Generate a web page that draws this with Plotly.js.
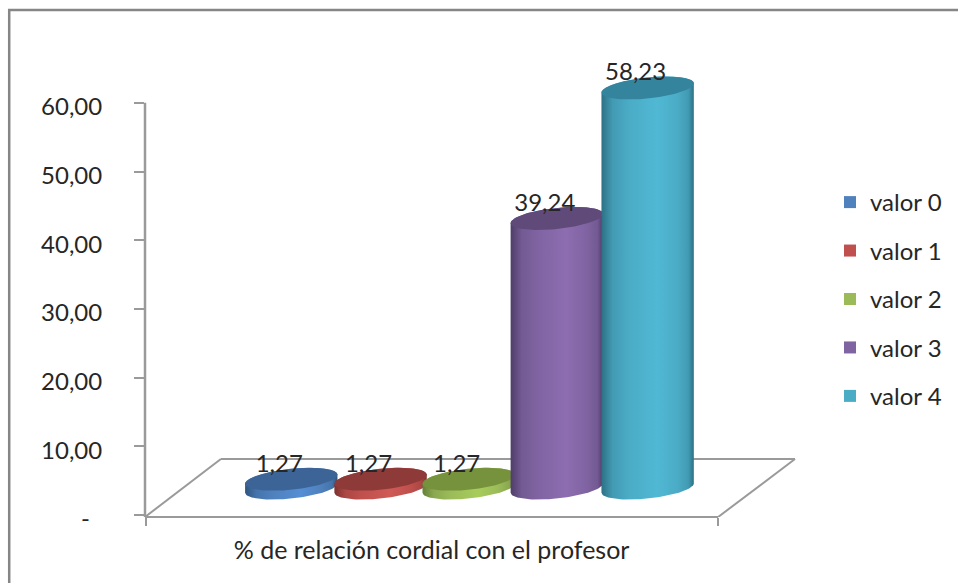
<!DOCTYPE html>
<html>
<head>
<meta charset="utf-8">
<script src="https://cdn.plot.ly/plotly-3.0.1.min.js"></script>
<style>html,body{margin:0;padding:0;background:#fff}</style>
</head>
<body>
<div id="chart" style="width:958px;height:583px"></div>
<script>
// ---- data ----
const seriesNames = ['valor 0', 'valor 1', 'valor 2', 'valor 3', 'valor 4'];
const seriesValues = [1.27, 1.27, 1.27, 39.24, 58.23];
const valueLabels = ['1,27', '1,27', '1,27', '39,24', '58,23'];
const categoryLabel = '% de relación cordial con el profesor';
const yTickVals = [0, 10, 20, 30, 40, 50, 60];
const yTickText = ['-\u00a0\u00a0', '10,00', '20,00', '30,00', '40,00', '50,00', '60,00'];

// ---- styles ----
const seriesColors = ['#4f81bd', '#c0504d', '#9bbb59', '#8064a2', '#4bacc6'];
const capColors = ['#3c6496', '#8e3a38', '#76923c', '#5f4a7a', '#35849d'];
const edgeColors = ['#2f5480', '#7d312f', '#64803a', '#4f3d68', '#2c7186'];
const midColors = ['#4474ab', '#ab4744', '#8aa84f', '#735a93', '#429ab3'];
const brightColors = ['#558ed5', '#cf5a56', '#a8cc5c', '#8d6db0', '#50b8d4'];
const slotCenters = [0.2552, 0.411, 0.5647, 0.7185, 0.877];

// ---- geometry of the fake 3D view ----
const L = 145, R = 801, T = 60, B = 517;
const pxPerX = 574, pxPerY = 6.87;
const baseOffset = 3.93;       // floor depth, in value units
const semiA = 46.5, semiB = 10.5, tilt = 6 * Math.PI / 180;
const FONT = 'Lato, Carlito, "Open Sans", sans-serif';
const TEXT = '#262626';
const LINE = '#9a9a9a';

function ellipsePoint(cx, cy, t) {
  const ax = semiA * Math.cos(t), by = semiB * Math.sin(t);
  return [cx + (ax * Math.cos(tilt) + by * Math.sin(tilt)) / pxPerX,
          cy + (ax * Math.sin(tilt) - by * Math.cos(tilt)) / pxPerY];
}
function arc(cx, cy, from, to, n) {
  const xs = [], ys = [];
  for (let i = 0; i <= n; i++) {
    const p = ellipsePoint(cx, cy, from + (to - from) * i / n);
    xs.push(p[0]); ys.push(p[1]);
  }
  return [xs, ys];
}

const traces = [];
// real bars: they carry the values and the legend, the cylinders are drawn over them
seriesNames.forEach((name, i) => {
  traces.push({
    type: 'bar', name: name, legendgroup: name,
    x: [slotCenters[i]], y: [seriesValues[i]], base: [baseOffset],
    width: [70 / pxPerX], marker: {color: seriesColors[i]},
    hoverinfo: 'name+y'
  });
});
// cylinders
seriesNames.forEach((name, i) => {
  const cx = slotCenters[i], y0 = baseOffset, y1 = baseOffset + seriesValues[i];
  const lo = arc(cx, y0, Math.PI, 0, 48);      // lower half, left to right
  const hi = arc(cx, y1, 0, -Math.PI, 48);     // upper half, right to left
  traces.push({
    type: 'scatter', mode: 'lines', showlegend: false, hoverinfo: 'skip',
    x: lo[0].concat(hi[0]).concat([lo[0][0]]),
    y: lo[1].concat(hi[1]).concat([lo[1][0]]),
    line: {width: 0}, fill: 'toself',
    fillgradient: {type: 'horizontal', colorscale: [
      [0, edgeColors[i]], [0.12, midColors[i]], [0.3, seriesColors[i]], [0.6, brightColors[i]],
      [0.82, seriesColors[i]], [0.94, midColors[i]], [1, edgeColors[i]]
    ]}
  });
  const cap = arc(cx, y1, 0, 2 * Math.PI, 96);
  traces.push({
    type: 'scatter', mode: 'lines', showlegend: false, hoverinfo: 'skip',
    x: cap[0], y: cap[1], line: {width: 0}, fill: 'toself', fillcolor: capColors[i]
  });
});
// value labels
traces.push({
  type: 'scatter', mode: 'text', showlegend: false, hoverinfo: 'skip', cliponaxis: false,
  x: slotCenters.map(c => c - 12 / pxPerX),
  y: seriesValues.map(v => v + baseOffset + 1.5 / pxPerY),
  text: valueLabels, textposition: 'top center',
  textfont: {family: FONT, size: 24, color: TEXT}
});

const ln = {color: LINE, width: 2};
const layout = {
  width: 958, height: 583,
  margin: {l: L, r: 958 - R, t: T, b: 583 - B, pad: 0},
  paper_bgcolor: '#fff', plot_bgcolor: 'rgba(0,0,0,0)',
  showlegend: true, barmode: 'overlay',
  font: {family: FONT, color: TEXT},
  xaxis: {
    range: [0, (R - L) / pxPerX], showgrid: false, zeroline: false, showline: false,
    tickmode: 'array', tickvals: [0.5], ticktext: [categoryLabel], ticks: '',
    ticklabelstandoff: 16, tickfont: {family: FONT, size: 25, color: TEXT}, tickangle: 0,
    minor: {tickmode: 'array', tickvals: [0.0015, 1], ticks: 'outside', ticklen: 8, tickwidth: 2, tickcolor: LINE, showgrid: false}
  },
  yaxis: {
    range: [-2 / pxPerY, (515 - T) / pxPerY], showgrid: false, zeroline: false, showline: false,
    tickmode: 'array', tickvals: yTickVals, ticktext: yTickText,
    ticks: 'outside', ticklen: 10, tickwidth: 2, tickcolor: LINE,
    ticklabelstandoff: 27, ticklabelshift: 4, tickfont: {family: FONT, size: 24, color: TEXT}
  },
  legend: {
    x: (830 - L) / (R - L), y: (B - 180) / (B - T), xanchor: 'left', yanchor: 'top',
    traceorder: 'grouped', tracegroupgap: 14.25, bgcolor: 'rgba(0,0,0,0)',
    font: {family: FONT, size: 24, color: TEXT}, itemclick: false, itemdoubleclick: false
  },
  shapes: [
    // chart frame (its right and bottom edges are cut off by the picture)
    {type: 'rect', xref: 'paper', yref: 'paper', layer: 'below',
     x0: (9 - L) / (R - L), x1: (1000 - L) / (R - L), y0: (B - 640) / (B - T), y1: (B - 10) / (B - T),
     line: {color: '#868686', width: 2.5}, fillcolor: 'rgba(0,0,0,0)'},
    // value axis line
    {type: 'line', xref: 'paper', yref: 'y', layer: 'below', x0: 0, x1: 0, y0: -2 / pxPerY, y1: 60, line: {color: LINE, width: 2.5}},
    // floor
    {type: 'line', xref: 'x', yref: 'paper', layer: 'below', x0: 0, x1: 1, y0: 0, y1: 0, line: ln},
    {type: 'line', xref: 'x', yref: 'y', layer: 'below', x0: 0, x1: (221 - L) / pxPerX, y0: -2 / pxPerY, y1: (515 - 459) / pxPerY, line: ln},
    {type: 'line', xref: 'x', yref: 'y', layer: 'below', x0: (221 - L) / pxPerX, x1: (796 - L) / pxPerX, y0: (515 - 459) / pxPerY, y1: (515 - 459) / pxPerY, line: ln},
    {type: 'line', xref: 'x', yref: 'y', layer: 'below', x0: (796 - L) / pxPerX, x1: 1, y0: (515 - 459) / pxPerY, y1: -2 / pxPerY, line: ln}
  ]
};
Plotly.newPlot('chart', traces, layout, {displayModeBar: false});
</script>
</body>
</html>
